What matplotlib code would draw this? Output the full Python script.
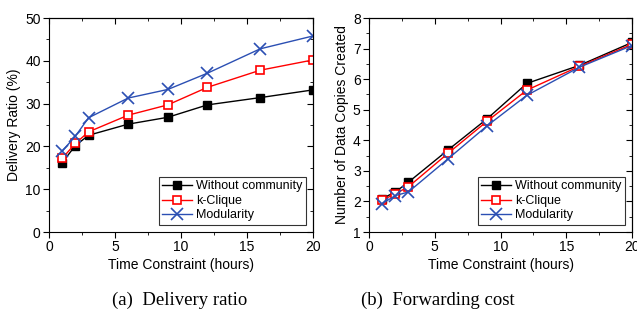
import numpy as np
import matplotlib
matplotlib.use('Agg')
import matplotlib.pyplot as plt
from matplotlib.ticker import MultipleLocator

plt.rcParams['font.family'] = ['Liberation Sans', 'DejaVu Sans']

hours = [1, 2, 3, 6, 9, 12, 16, 20]

# delivery ratio (%)
ratio_none = [16.2, 20.2, 22.6, 25.2, 26.8, 29.7, 31.4, 33.2]
ratio_clique = [17.2, 20.7, 23.4, 27.3, 29.7, 33.8, 37.8, 40.2]
ratio_mod = [18.9, 22.4, 26.7, 31.3, 33.3, 37.1, 42.8, 45.8]

# forwarding cost (number of copies)
cost_none = [2.09, 2.31, 2.63, 3.68, 4.71, 5.86, 6.45, 7.20]
cost_clique = [2.04, 2.25, 2.48, 3.57, 4.63, 5.64, 6.42, 7.14]
cost_mod = [1.93, 2.19, 2.31, 3.39, 4.48, 5.47, 6.39, 7.10]

labels = ['Without community', 'k-Clique', 'Modularity']

W, H = 637, 328
fig = plt.figure(figsize=(W / 100, H / 100), dpi=100)
ax1 = fig.add_axes([49 / W, 96 / H, 264 / W, 214 / H])
ax2 = fig.add_axes([369 / W, 96 / H, 263 / W, 214 / H])

FS = 10


def set_ticks(axis, major, minor):
    axis.set_major_locator(MultipleLocator(major))
    axis.set_minor_locator(MultipleLocator(minor))


def draw(ax, ys, ystep):
    ax.plot(hours, ys[0], '-s', color='black', lw=1, ms=6,
            mfc='black', mec='black', label=labels[0])
    ax.plot(hours, ys[1], '-s', color='red', lw=1, ms=6,
            mfc='white', mec='red', mew=1.2, label=labels[1])
    ax.plot(hours, ys[2], '-x', color='#2b4fb3', lw=1, ms=8,
            mew=1.2, label=labels[2])
    ax.set_xlim(0, 20)
    set_ticks(ax.xaxis, 5, 2.5)
    set_ticks(ax.yaxis, ystep, ystep / 2)
    ax.tick_params(which='both', direction='out', labelsize=FS, pad=2)
    ax.tick_params(which='major', length=4)
    ax.tick_params(which='minor', length=2)
    # mirrored ticks on top / right point inwards
    top = ax.secondary_xaxis('top')
    right = ax.secondary_yaxis('right')
    set_ticks(top.xaxis, 5, 2.5)
    set_ticks(right.yaxis, ystep, ystep / 2)
    for sec in (top, right):
        sec.tick_params(which='both', direction='in', labelleft=False,
                        labelright=False, labeltop=False, labelbottom=False)
        sec.tick_params(which='major', length=4)
        sec.tick_params(which='minor', length=2)
    ax.set_xlabel('Time Constraint (hours)', fontsize=FS, labelpad=3)
    leg = ax.legend(loc='lower right', fontsize=9, frameon=True, fancybox=False,
                    edgecolor='black', handlelength=2.4, handletextpad=0.3,
                    borderpad=0.25, labelspacing=0.2, borderaxespad=0.6)
    leg.get_frame().set_linewidth(0.8)


draw(ax1, [ratio_none, ratio_clique, ratio_mod], 10)
ax1.set_ylim(0, 50)
ax1.set_ylabel('Delivery Ratio (%)', fontsize=FS, labelpad=3)

draw(ax2, [cost_none, cost_clique, cost_mod], 1)
ax2.set_ylim(1, 8)
ax2.set_ylabel('Number of Data Copies Created', fontsize=FS, labelpad=3)

fig.text(180 / W, 1 - 300 / H, '(a)  Delivery ratio', ha='center', va='center',
         fontsize=13.5, family=['Liberation Serif', 'DejaVu Serif'])
fig.text(438 / W, 1 - 300 / H, '(b)  Forwarding cost', ha='center', va='center',
         fontsize=13.5, family=['Liberation Serif', 'DejaVu Serif'])

fig.savefig('out.png', dpi=100)
